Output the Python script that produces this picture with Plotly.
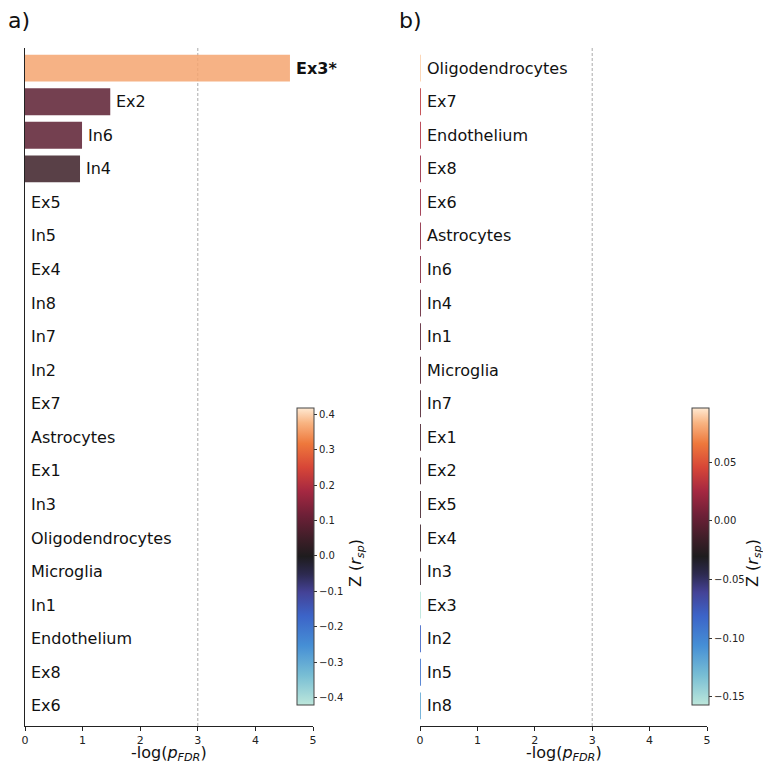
import plotly.graph_objects as go
from plotly.subplots import make_subplots

# ---- data ----
cells_a = ["Ex3", "Ex2", "In6", "In4", "Ex5", "In5", "Ex4", "In8", "In7", "In2",
           "Ex7", "Astrocytes", "Ex1", "In3", "Oligodendrocytes", "Microglia",
           "In1", "Endothelium", "Ex8", "Ex6"]
neglogp_a = [4.6, 1.48, 0.99, 0.955, 0.0, 0.0, 0.0, 0.0, 0.0, 0.0,
             0.0, 0.0, 0.0, 0.0, 0.0, 0.0, 0.0, 0.0, 0.0, 0.0]
z_a = [0.36, 0.09, 0.09, 0.045, 0.05, 0.04, 0.03, 0.03, 0.02, 0.0,
       -0.02, -0.05, -0.05, -0.1, -0.15, -0.2, -0.25, -0.3, -0.35, -0.42]
labels_a = ["<b>Ex3*</b>"] + cells_a[1:]

cells_b = ["Oligodendrocytes", "Ex7", "Endothelium", "Ex8", "Ex6", "Astrocytes",
           "In6", "In4", "In1", "Microglia", "In7", "Ex1", "Ex2", "Ex5", "Ex4",
           "In3", "Ex3", "In2", "In5", "In8"]
neglogp_b = [0.012] * 20
z_b = [0.09, 0.035, 0.03, 0.02, 0.02, 0.015, 0.012, 0.0, -0.005, -0.008,
       -0.01, -0.012, -0.015, -0.015, -0.018, -0.02, -0.155, -0.08, -0.09, -0.12]

cbar_ticks_a = [-0.4, -0.3, -0.2, -0.1, 0.0, 0.1, 0.2, 0.3, 0.4]
cbar_ticks_b = [-0.15, -0.10, -0.05, 0.0, 0.05]
x_ticks = [0, 1, 2, 3, 4, 5]
threshold = 3
x_title = "-log(<i>p</i><sub><i>FDR</i></sub>)"
cbar_title = "Z (<i>r</i><sub><i>sp</i></sub>)"

icefire = [
    [0.0, "rgb(189,231,219)"],
    [0.1, "rgb(120,190,212)"],
    [0.2, "rgb(70,143,213)"],
    [0.3, "rgb(60,100,200)"],
    [0.38, "rgb(68,66,150)"],
    [0.44, "rgb(45,42,80)"],
    [0.5, "rgb(30,28,30)"],
    [0.56, "rgb(62,30,40)"],
    [0.64, "rgb(110,32,55)"],
    [0.72, "rgb(165,40,65)"],
    [0.8, "rgb(215,70,55)"],
    [0.88, "rgb(238,120,60)"],
    [0.95, "rgb(248,180,130)"],
    [1.0, "rgb(255,233,210)"],
]

# page body has an 8px margin; work in screenshot pixels and shift
OFF = 8
W, H = 771 - OFF, 768 - OFF
L_PX, R_PX, T_PX, B_PX = 25, 707, 48, 726
ml = L_PX - OFF
mt = T_PX - OFF
mr = W - (R_PX - OFF)
mb = H - (B_PX - OFF)
pw = W - ml - mr
ph = H - mt - mb

def px_x(p):
    return (p - L_PX) / pw

def px_y(p):
    return (B_PX - p) / ph

fig = make_subplots(rows=1, cols=2, horizontal_spacing=0.0)
fig.update_layout(xaxis=dict(domain=[0, px_x(313)]), xaxis2=dict(domain=[px_x(420), 1.0]))

FONT = "DejaVu Sans, Liberation Sans, sans-serif"

def cbar(xpx, ticks, fmt):
    return dict(
        x=px_x(xpx), xanchor="left", xpad=0, ypad=0,
        y=px_y(705), yanchor="bottom",
        lenmode="pixels", len=705 - 408, thickness=17,
        outlinecolor="#444", outlinewidth=1,
        tickmode="array", tickvals=ticks, ticks="outside", ticklen=3,
        tickcolor="#333", tickformat=fmt,
        tickfont=dict(family=FONT, size=10, color="#222"),
    )

fig.add_trace(go.Bar(
    y=cells_a, x=neglogp_a, orientation="h",
    marker=dict(color=z_a, colorscale=icefire, cmin=-0.42, cmax=0.417,
                line=dict(width=0), showscale=True, opacity=0.85,
                colorbar=cbar(297, cbar_ticks_a, ".1f")),
    showlegend=False, hoverinfo="skip",
), row=1, col=1)

fig.add_trace(go.Bar(
    y=cells_b, x=neglogp_b, orientation="h",
    marker=dict(color=z_b, colorscale=icefire, cmin=-0.157, cmax=0.096,
                line=dict(width=0), showscale=True, opacity=0.85,
                colorbar=cbar(692, cbar_ticks_b, ".2f")),
    showlegend=False, hoverinfo="skip",
), row=1, col=2)

for i, (lab, v) in enumerate(zip(labels_a, neglogp_a)):
    fig.add_annotation(x=v, y=cells_a[i], xref="x", yref="y", text=lab,
                       xanchor="left", xshift=4, showarrow=False,
                       font=dict(family=FONT, size=16, color="#111"))
for i, (lab, v) in enumerate(zip(cells_b, neglogp_b)):
    fig.add_annotation(x=v, y=lab, xref="x2", yref="y2", text=lab,
                       xanchor="left", xshift=4, showarrow=False,
                       font=dict(family=FONT, size=16, color="#111"))

for xr, yr in (("x", "y domain"), ("x2", "y2 domain")):
    fig.add_shape(type="line", x0=threshold, x1=threshold, y0=0, y1=1,
                  xref=xr, yref=yr, line=dict(color="#aaaaaa", width=1, dash="3px,2px"),
                  layer="below")

fig.update_xaxes(
    range=[0, 5], tickmode="array", tickvals=x_ticks, ticks="outside", ticklen=4,
    tickcolor="#222", showline=True, linecolor="#222", linewidth=1,
    showgrid=False, zeroline=False,
    tickfont=dict(family=FONT, size=11, color="#222"),
)

fig.update_yaxes(showticklabels=False, ticks="", showgrid=False, zeroline=False,
                 range=[19.6, -0.6])
fig.update_yaxes(showline=True, linecolor="#222", linewidth=1, row=1, col=1)
fig.update_yaxes(showline=False, row=1, col=2)

# x-axis titles
for cx in ((25 + 313) / 2, (420 + 707) / 2):
    fig.add_annotation(x=px_x(cx), y=px_y(753), xref="paper", yref="paper",
                       text=x_title, xanchor="center", yanchor="middle",
                       showarrow=False, borderpad=0,
                       font=dict(family=FONT, size=16, color="#111"))

# colorbar titles
for cx, cy in ((356, 563), (753, 563)):
    fig.add_annotation(x=px_x(cx), y=px_y(cy), xref="paper", yref="paper",
                       text=cbar_title, textangle=-90, xanchor="center",
                       yanchor="middle", showarrow=False, borderpad=0,
                       font=dict(family=FONT, size=16, color="#111"))

fig.add_annotation(x=px_x(6), y=px_y(20), xref="paper", yref="paper", text="a)",
                   xanchor="left", yanchor="middle", showarrow=False,
                   font=dict(family=FONT, size=22, color="#111"))
fig.add_annotation(x=px_x(397), y=px_y(20), xref="paper", yref="paper", text="b)",
                   xanchor="left", yanchor="middle", showarrow=False,
                   font=dict(family=FONT, size=22, color="#111"))

fig.update_layout(
    width=W, height=H,
    margin=dict(l=ml, r=mr, t=mt, b=mb, autoexpand=False),
    plot_bgcolor="white", paper_bgcolor="white",
    bargap=0.2, font=dict(family=FONT),
)

fig.write_html("out.html")
